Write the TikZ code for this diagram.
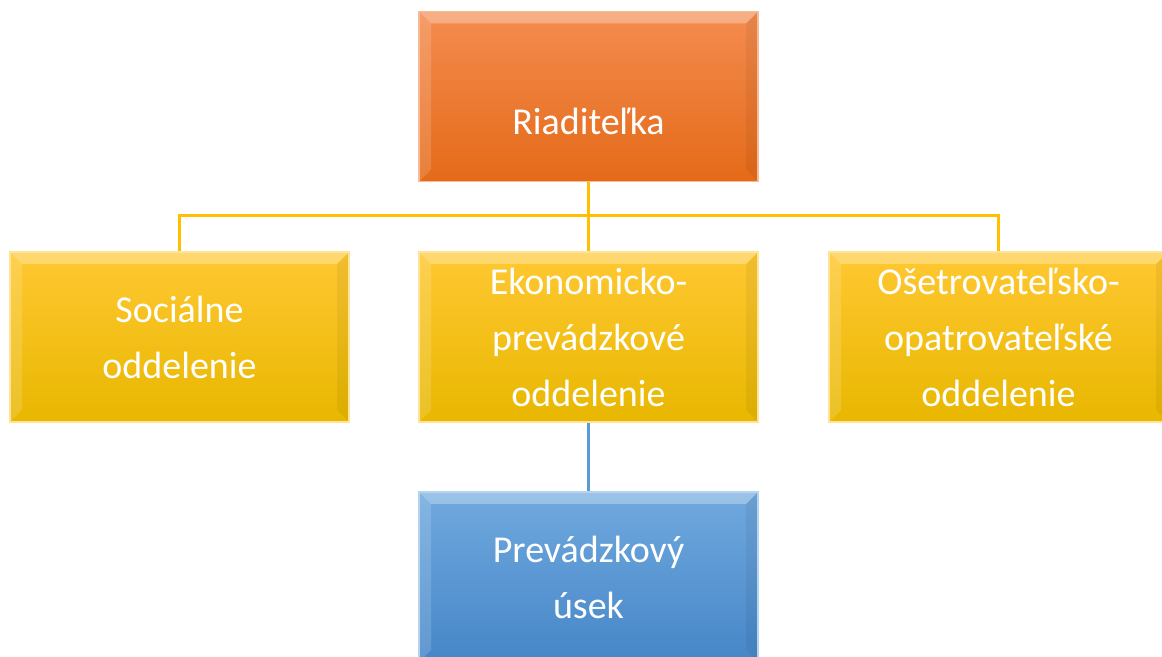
\documentclass[tikz,border=0pt]{standalone}
\usepackage{fontspec}
\setmainfont{Carlito}
\definecolor{orangetop}{HTML}{F48C50}
\definecolor{orangebot}{HTML}{E46A18}
\definecolor{yellowtop}{HTML}{FFC832}
\definecolor{yellowmid}{HTML}{FFC200}
\definecolor{yellowbot}{HTML}{E8B700}
\definecolor{bluetop}{HTML}{70A9DE}
\definecolor{bluebot}{HTML}{4686C8}
\definecolor{lineyellow}{HTML}{FFC000}
\definecolor{lineblue}{HTML}{5B9BD5}
\tikzset{
  bevel/.style={path picture={
    \fill[white,opacity=0.3]
    (path picture bounding box.north west) -- (path picture bounding box.north east)
    -- ([xshift=-6pt,yshift=-6pt]path picture bounding box.north east)
    -- ([xshift=6pt,yshift=-6pt]path picture bounding box.north west) -- cycle;
    \fill[white,opacity=0.15]
    (path picture bounding box.north west) -- ([xshift=6pt,yshift=-6pt]path picture bounding box.north west)
    -- ([xshift=6pt,yshift=6pt]path picture bounding box.south west)
    -- (path picture bounding box.south west) -- cycle;
    \fill[black,opacity=0.05]
    (path picture bounding box.north east) -- ([xshift=-6pt,yshift=-6pt]path picture bounding box.north east)
    -- ([xshift=-6pt,yshift=6pt]path picture bounding box.south east)
    -- (path picture bounding box.south east) -- cycle;
  }},
  unit/.style={minimum width=169.5pt,minimum height=85pt,inner sep=0pt,bevel,
    align=center,text=white,font=\fontsize{19}{28}\selectfont},
  headunit/.style={unit,top color=orangetop,bottom color=orangebot,
    draw=orangetop!60!white,line width=0.8pt},
  deptunit/.style={unit,top color=yellowtop,middle color=yellowmid,bottom color=yellowbot,
    draw=yellowtop!50!white,line width=0.8pt},
  subunit/.style={unit,top color=bluetop,bottom color=bluebot,
    draw=bluetop!50!white,line width=0.8pt},
  link/.style={line width=1.5pt}
}
\begin{document}
\begin{tikzpicture}[x=0.5pt,y=-0.5pt]
  \useasboundingbox (0,0) rectangle (1162,657);
  \clip (0,0) rectangle (1162,657);
  \node[headunit] (riad) at (588.5,96.5) {~\\[10pt]Riaditeľka};
  \node[deptunit] (soc) at (179.5,337) {Sociálne\\oddelenie};
  \node[deptunit] (ekon) at (588.5,337) {Ekonomicko-\\prevádzkové\\oddelenie};
  \node[deptunit] (oset) at (998.5,337) {Ošetrovateľsko-\\opatrovateľské\\oddelenie};
  \node[subunit] (prev) at (588.5,577) {Prevádzkový\\úsek};
  % spojnice
  \draw[link,lineyellow]
  (riad.south) -- (ekon.north)
  (soc.north) |- (588.5,216) -| (oset.north);
  \draw[link,lineblue]
  (ekon.south) -- (prev.north);
\end{tikzpicture}
\end{document}
